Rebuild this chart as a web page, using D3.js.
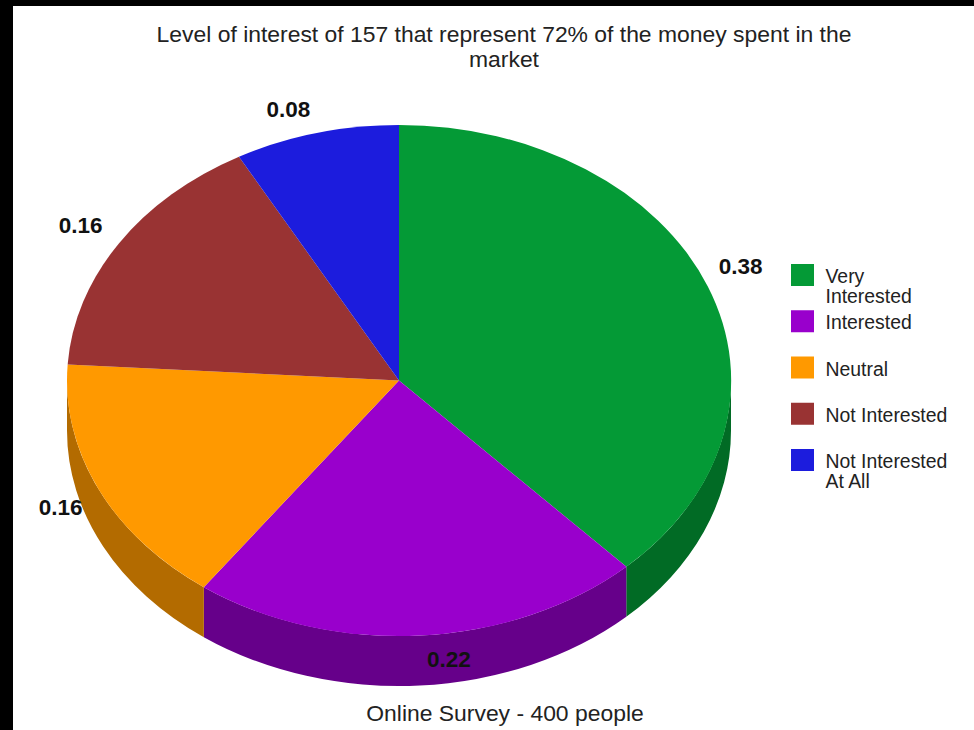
<!DOCTYPE html>
<html>
<head>
<meta charset="utf-8">
<script src="https://cdn.jsdelivr.net/npm/d3@7"></script>
<style>
  html, body { margin: 0; padding: 0; background: #000; }
  svg { display: block; }
  text { font-family: "Liberation Sans", Arial, sans-serif; }
</style>
</head>
<body>
<svg id="chart" width="974" height="730"></svg>
<script>
// Survey results
const categories = ["Very Interested", "Interested", "Neutral", "Not Interested", "Not Interested At All"];
const shares = [0.38, 0.22, 0.16, 0.16, 0.08];
const topColors = ["#049a36", "#9900cc", "#ff9900", "#993333", "#1c1cdd"];
const sideColors = ["#016b25", "#66008a", "#b36b00", "#6b2323", "#13139a"];
const legendLines = [["Very", "Interested"], ["Interested"], ["Neutral"], ["Not Interested"], ["Not Interested", "At All"]];
const titleLines = ["Level of interest of 157 that represent 72% of the money spent in the", "market"];
const caption = "Online Survey - 400 people";

// Layout of the tilted pie
const W = 974, H = 730;
const cx = 399, cy = 380.5, rx = 332, ry = 255.5, depth = 50;
// Label offsets in pixels from each slice's rim midpoint
const labelOffsets = [[33, -20], [29, 24], [-38, 18], [-38, -18], [-28, -24]];

const svg = d3.select("#chart");

// Page background with the dark strips along the top and left edges
svg.append("rect").attr("width", W).attr("height", H).attr("fill", "#000");
svg.append("rect").attr("x", 13).attr("y", 6).attr("width", W - 13).attr("height", H - 6).attr("fill", "#fff");

const pie = d3.pie().sort(null).value(d => d);
const slices = pie(shares);

const px = a => cx + rx * Math.sin(a);
const py = a => cy - ry * Math.cos(a);

// Side wall: only the part of the rim facing the viewer (angles between PI/2 and 3PI/2)
function wallPath(start, end) {
  const a0 = Math.max(start, Math.PI / 2), a1 = Math.min(end, 3 * Math.PI / 2);
  if (a1 <= a0) return null;
  const large = a1 - a0 > Math.PI ? 1 : 0;
  return `M${px(a0)},${py(a0)}` +
    `A${rx},${ry} 0 ${large} 1 ${px(a1)},${py(a1)}` +
    `L${px(a1)},${py(a1) + depth}` +
    `A${rx},${ry} 0 ${large} 0 ${px(a0)},${py(a0) + depth}Z`;
}

svg.append("g").selectAll("path")
  .data(slices.filter(s => wallPath(s.startAngle, s.endAngle)))
  .join("path")
  .attr("d", s => wallPath(s.startAngle, s.endAngle))
  .attr("fill", s => sideColors[s.index]);

// Top face: a unit-radius arc stretched into an ellipse
const arc = d3.arc().innerRadius(0).outerRadius(1);
svg.append("g")
  .attr("transform", `translate(${cx},${cy}) scale(${rx},${ry})`)
  .selectAll("path")
  .data(slices)
  .join("path")
  .attr("d", arc)
  .attr("fill", s => topColors[s.index]);

// Value labels
svg.append("g").selectAll("text")
  .data(slices)
  .join("text")
  .attr("x", s => px((s.startAngle + s.endAngle) / 2) + labelOffsets[s.index][0])
  .attr("y", s => py((s.startAngle + s.endAngle) / 2) + labelOffsets[s.index][1])
  .attr("text-anchor", "middle")
  .attr("dominant-baseline", "central")
  .attr("font-size", 22.5)
  .attr("font-weight", "bold")
  .attr("fill", "#111")
  .text(s => s.data);

// Title
svg.append("text")
  .attr("text-anchor", "middle")
  .attr("font-size", 22.9)
  .attr("fill", "#222")
  .selectAll("tspan")
  .data(titleLines)
  .join("tspan")
  .attr("x", 504)
  .attr("y", (d, i) => 42 + i * 25)
  .text(d => d);

// Caption below the pie
svg.append("text")
  .attr("x", 505)
  .attr("y", 721)
  .attr("text-anchor", "middle")
  .attr("font-size", 22.9)
  .attr("fill", "#222")
  .text(caption);

// Legend
const legendY = d3.scalePoint().domain(categories).range([264, 449]);
const legend = svg.append("g").selectAll("g")
  .data(categories)
  .join("g")
  .attr("transform", d => `translate(791,${legendY(d)})`);

legend.append("rect")
  .attr("width", 23)
  .attr("height", 22)
  .attr("fill", (d, i) => topColors[i]);

legend.append("text")
  .attr("font-size", 19.4)
  .attr("fill", "#222")
  .selectAll("tspan")
  .data((d, i) => legendLines[i])
  .join("tspan")
  .attr("x", 34.5)
  .attr("y", (d, i) => 19 + i * 20)
  .text(d => d);
</script>
</body>
</html>
